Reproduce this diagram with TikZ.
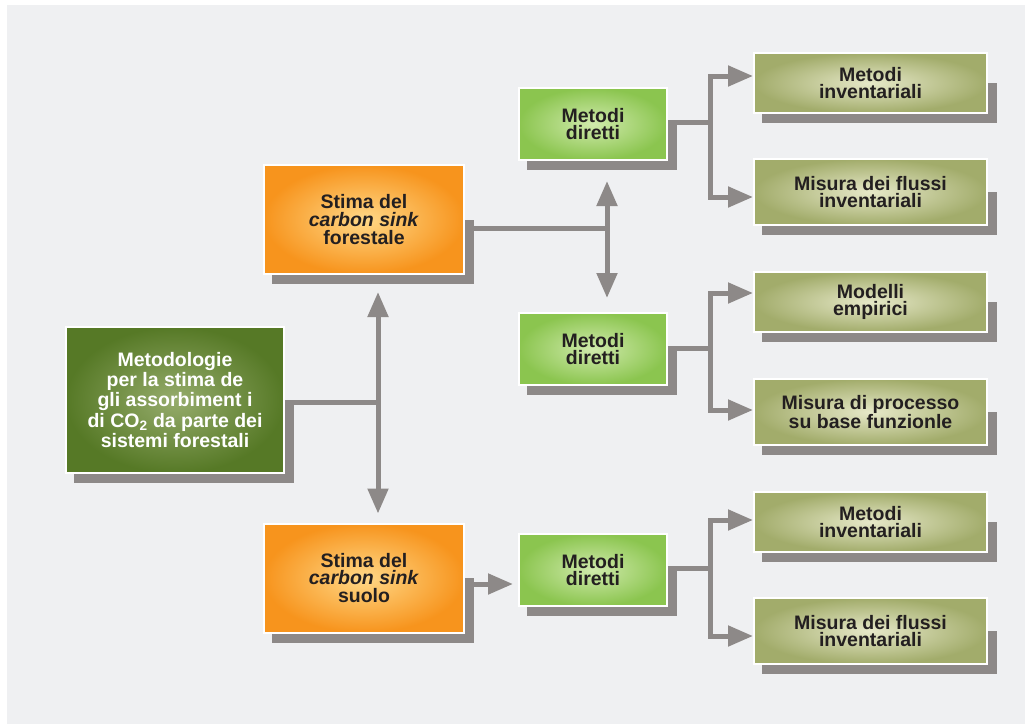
\documentclass[tikz,border=0pt]{standalone}
\usepackage{fontspec}
\setmainfont{Liberation Sans}
\usetikzlibrary{arrows.meta,calc}
\definecolor{panel}{HTML}{EFF0F2}
\definecolor{sgray}{HTML}{8D8988}
\definecolor{dkgreenO}{RGB}{86,121,38}
\definecolor{dkgreenI}{RGB}{150,172,108}
\definecolor{orangeO}{RGB}{247,148,29}
\definecolor{orangeI}{RGB}{255,216,135}
\definecolor{greenO}{RGB}{139,197,79}
\definecolor{greenI}{RGB}{208,234,172}
\definecolor{oliveO}{RGB}{162,172,107}
\definecolor{oliveI}{RGB}{230,232,200}
\definecolor{txt}{HTML}{231F20}
\pgfdeclarelayer{bg}
\pgfdeclarelayer{shadowlayer}
\pgfsetlayers{bg,shadowlayer,main}
\newcommand{\boxshadow}[1]{\fill[sgray] ($(#1.east)+(9,0)$) rectangle ($(#1.south west)+(9,9)$);}
\newcommand{\dkfont}{\fontsize{19.5}{18.3}\selectfont\bfseries\lineskiplimit=1pt\relax\lineskip=2pt\relax}
\begin{document}
\begin{tikzpicture}[x=1pt,y=-1pt,
  box/.style={draw=white, line width=2pt, align=center, inner sep=0pt,
    font=\fontsize{19.5}{17.7}\selectfont\bfseries, text=txt},
  dkbox/.style={box, inner color=dkgreenI, outer color=dkgreenO, text=white,
    minimum width=218pt, minimum height=146pt, font=\dkfont},
  orbox/.style={box, inner color=orangeI, outer color=orangeO, minimum width=200pt, minimum height=109pt},
  grbox/.style={box, inner color=greenI, outer color=greenO, minimum width=148pt, minimum height=72pt},
  olbox/.style={box, inner color=oliveI, outer color=oliveO, minimum width=233pt},
  conn/.style={draw=sgray, line width=5pt},
  arr/.style={conn, -{Triangle[width=20pt,length=25pt]}}
]
\useasboundingbox (0,0) rectangle (1025,724);
\begin{pgfonlayer}{bg}
\fill[white] (0,0) rectangle (1025,724);
\fill[panel] (7,5) rectangle (1025,724);
\end{pgfonlayer}

\node[dkbox] (L) at (175,400) {Metodologie\\per la stima de\\gli assorbiment i\\di CO\textsubscript{2} da parte dei\\sistemi forestali};
\node[orbox] (O1) at (364,219.5) {Stima del\\\textit{carbon sink}\\forestale};
\node[orbox] (O2) at (364,578) {Stima del\\\textit{carbon sink}\\suolo};
\node[grbox] (G1) at (593,124) {Metodi\\diretti};
\node[grbox] (G2) at (593,349) {Metodi\\diretti};
\node[grbox] (G3) at (593,570) {Metodi\\diretti};
\node[olbox, minimum height=60pt] (o1) at (870.5,83) {Metodi\\inventariali};
\node[olbox, minimum height=66pt] (o2) at (870.5,192) {Misura dei flussi\\inventariali};
\node[olbox, minimum height=60pt] (o3) at (870.5,302) {Modelli\\empirici};
\node[olbox, minimum height=66pt] (o4) at (870.5,412) {Misura di processo\\su base funzionle};
\node[olbox, minimum height=60pt] (o5) at (870.5,522) {Metodi\\inventariali};
\node[olbox, minimum height=66pt] (o6) at (870.5,631) {Misura dei flussi\\inventariali};

\begin{pgfonlayer}{shadowlayer}
\foreach \n in {L,O1,O2,G1,G2,G3,o1,o2,o3,o4,o5,o6} {\boxshadow{\n}}
\end{pgfonlayer}

\coordinate (t1) at (378,402);
\coordinate (t2) at (607,228);
\coordinate (t3) at (710,122);
\coordinate (t4) at (710,348);
\coordinate (t5) at (710,568);

% left trunk
\draw[conn] (L.east |- t1) -- (t1);
\draw[arr] (t1) -- ($(t1 |- O1.south)+(0,17)$);
\draw[arr] (t1) -- ($(t1 |- O2.north)+(0,-9)$);
% upper orange trunk
\draw[conn] (O1.east |- t2) -- (t2);
\draw[arr] (t2) -- ($(t2 |- G1.south)+(0,20)$);
\draw[arr] (t2) -- ($(t2 |- G2.north)+(0,-14)$);
% lower orange
\draw[arr, shorten >=5pt] ($(O2.east)+(0,6)$) -- ($(G3.west)+(0,14)$);
% green to olive
\draw[conn] (G1.east |- t3) -- (t3);
\draw[arr] (t3) |- ($(o1.west)+(0,-7)$);
\draw[arr] (t3) |- ($(o2.west)+(0,5)$);
\draw[conn] (G2.east |- t4) -- (t4);
\draw[arr] (t4) |- ($(o3.west)+(0,-9)$);
\draw[arr] (t4) |- ($(o4.west)+(0,-2)$);
\draw[conn] (G3.east |- t5) -- (t5);
\draw[arr] (t5) |- ($(o5.west)+(0,-2)$);
\draw[arr] (t5) |- ($(o6.west)+(0,5)$);
\end{tikzpicture}
\end{document}
